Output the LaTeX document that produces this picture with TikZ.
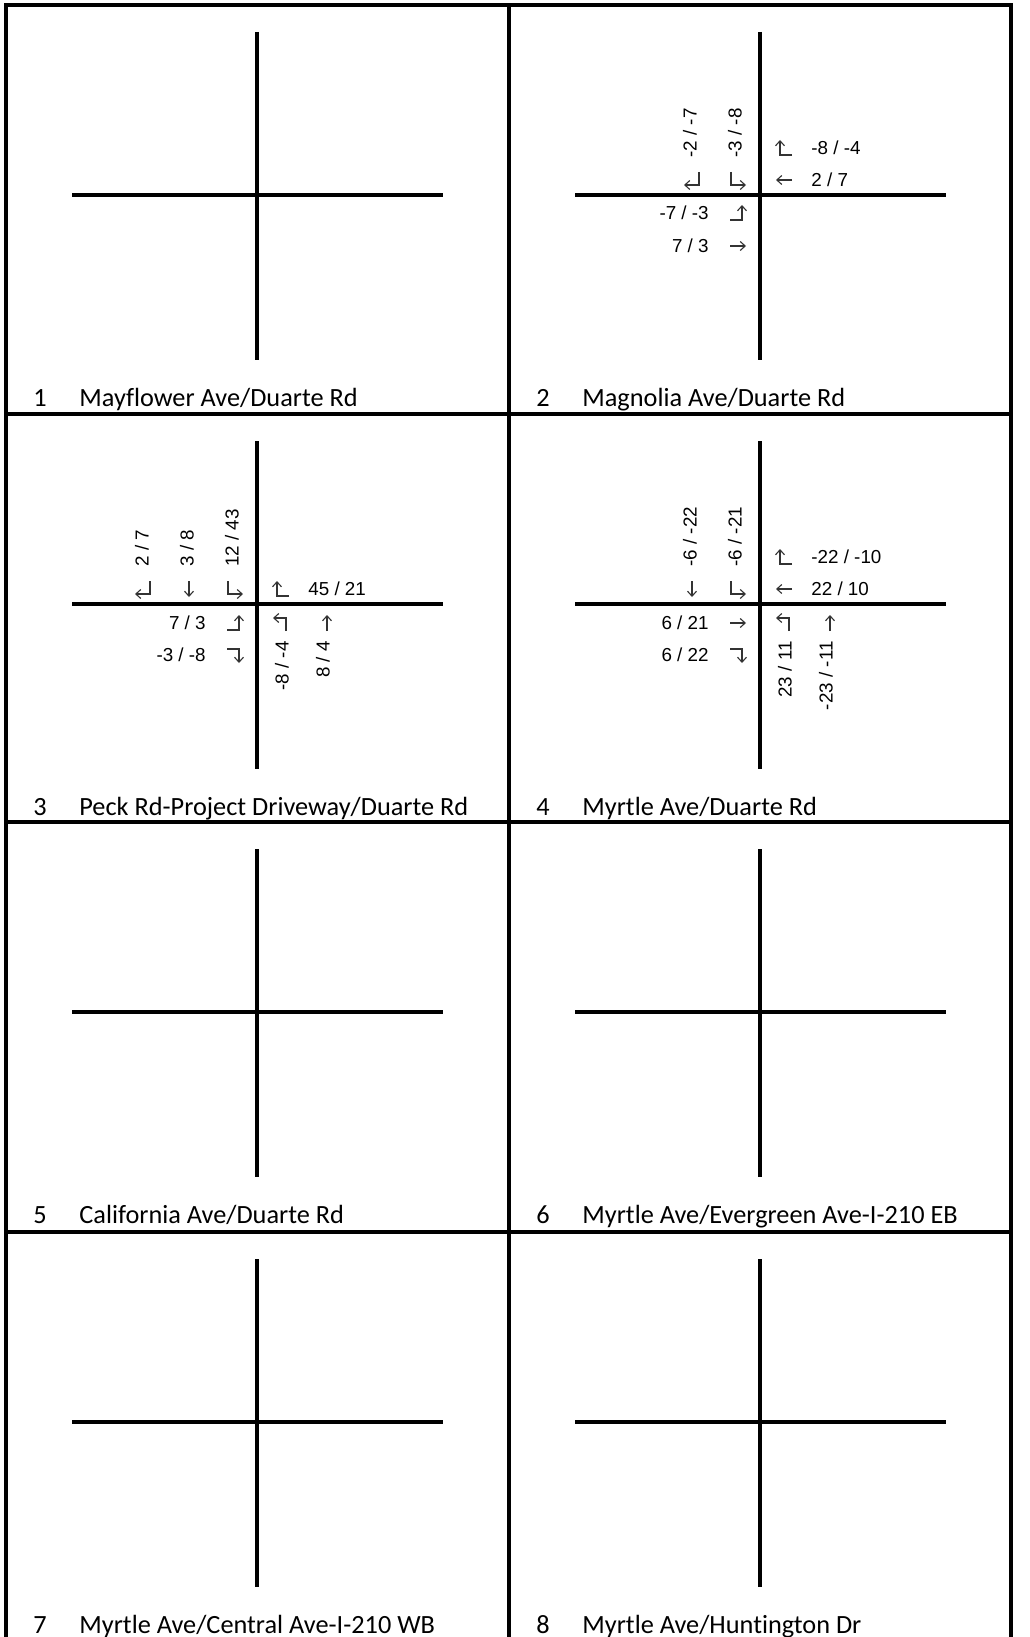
\documentclass[tikz,border=0pt]{standalone}
\usepackage{fontspec}
\setmainfont[Ligatures={NoCommon,NoContextual},Contextuals=NoAlternate]{Carlito}
\newfontfamily\volfont{Liberation Sans}
\usetikzlibrary{arrows.meta}

% movement arrows, (#1,#2) is the middle of the glyph
\newcommand{\mvW}[2]{\draw[turn] (#1,#2) ++(8,0) -- ++(-16,0);}
\newcommand{\mvE}[2]{\draw[turn] (#1,#2) ++(-8,0) -- ++(16,0);}
\newcommand{\mvN}[2]{\draw[turn] (#1,#2) ++(0,8) -- ++(0,-16);}
\newcommand{\mvS}[2]{\draw[turn] (#1,#2) ++(0,-8) -- ++(0,16);}
\newcommand{\mvSW}[2]{\draw[turn] (#1,#2) ++(7,-8) -- ++(0,13) -- ++(-15,0);}
\newcommand{\mvSE}[2]{\draw[turn] (#1,#2) ++(-7,-8) -- ++(0,13) -- ++(15,0);}
\newcommand{\mvWS}[2]{\draw[turn] (#1,#2) ++(8,7) -- ++(-12,0) -- ++(0,-15);}
\newcommand{\mvEN}[2]{\draw[turn] (#1,#2) ++(-8,7) -- ++(12,0) -- ++(0,-15);}
\newcommand{\mvES}[2]{\draw[turn] (#1,#2) ++(-8,-6) -- ++(12,0) -- ++(0,14);}
\newcommand{\mvNW}[2]{\draw[turn] (#1,#2) ++(5,8) -- ++(0,-13) -- ++(-13,0);}

\begin{document}
\begin{tikzpicture}[
  x=0.5pt, y=-0.5pt,
  grid/.style={line width=1.65pt,line cap=rect},
  road/.style={line width=1.6pt},
  turn/.style={-{Straight Barb[length=2.5pt,width=4.5pt]},line width=0.55pt,black!80},
  vol/.style={font=\volfont\fontsize{9.4}{11}\selectfont,inner sep=0pt},
  sbvol/.style={vol,rotate=90,anchor=west},
  nbvol/.style={vol,rotate=90,anchor=east},
  ebvol/.style={vol,anchor=east},
  wbvol/.style={vol,anchor=west},
  caption/.style={font=\fontsize{13.15}{15}\selectfont,inner sep=0pt,anchor=base west},
]
\useasboundingbox (0,0) rectangle (1029,1637);

% table
\foreach \y in {5,414,822,1232} \draw[grid] (6,\y) -- (1011,\y);
\foreach \x in {6,509,1011} \draw[grid] (\x,5) -- (\x,1640);

% crossings and names
\foreach \n/\cl/\rt/\name in {
  1/6/5/{Mayflower Ave/Duarte Rd},
  2/509/5/{Magnolia Ave/Duarte Rd},
  3/6/414/{Peck Rd-Project Driveway/Duarte Rd},
  4/509/414/{Myrtle Ave/Duarte Rd},
  5/6/822/{California Ave/Duarte Rd},
  6/509/822/{Myrtle Ave/Evergreen Ave-I-210 EB},
  7/6/1232/{Myrtle Ave/Central Ave-I-210 WB},
  8/509/1232/{Myrtle Ave/Huntington Dr}} {
  \draw[road] (\cl+251,\rt+27) -- (\cl+251,\rt+355);
  \draw[road] (\cl+66,\rt+190) -- (\cl+437,\rt+190);
  \node[caption] (num\n) at (\cl+27,\rt+401) {\n};
  \node[caption] (name\n) at (\cl+73,\rt+401) {\name};
}

% 2 Magnolia Ave/Duarte Rd
\begin{scope}[shift={(760,195)}]
  \node[sbvol] (p2sbr) at (-70,-37) {-2 / -7};
  \node[sbvol] (p2sbl) at (-25,-37) {-3 / -8};
  \mvSW{-68}{-15} \mvSE{-22}{-15}
  \node[wbvol] (p2wbl) at (51,-47) {-8 / -4};
  \node[wbvol] (p2wbt) at (51,-15) {2 / 7};
  \mvWS{24}{-47} \mvW{24}{-15}
  \node[ebvol] (p2ebl) at (-51,18) {-7 / -3};
  \node[ebvol] (p2ebt) at (-51,51) {7 / 3};
  \mvEN{-22}{18} \mvE{-22}{51}
\end{scope}

% 3 Peck Rd-Project Driveway/Duarte Rd
\begin{scope}[shift={(257,604)}]
  \node[sbvol] (p3sbr) at (-115,-37) {2 / 7};
  \node[sbvol] (p3sbt) at (-70,-37) {3 / 8};
  \node[sbvol] (p3sbl) at (-25,-37) {12 / 43};
  \mvSW{-114}{-15} \mvS{-68}{-15} \mvSE{-22}{-15}
  \node[wbvol] (p3wbl) at (51,-15) {45 / 21};
  \mvWS{24}{-15}
  \node[ebvol] (p3ebl) at (-51,19) {7 / 3};
  \node[ebvol] (p3ebr) at (-51,51) {-3 / -8};
  \mvEN{-22}{19} \mvES{-22}{51}
  \node[nbvol] (p3nbl) at (25,37) {-8 / -4};
  \node[nbvol] (p3nbt) at (66,37) {8 / 4};
  \mvNW{24}{19} \mvN{70}{19}
\end{scope}

% 4 Myrtle Ave/Duarte Rd
\begin{scope}[shift={(760,604)}]
  \node[sbvol] (p4sbt) at (-70,-37) {-6 / -22};
  \node[sbvol] (p4sbl) at (-25,-37) {-6 / -21};
  \mvS{-68}{-15} \mvSE{-22}{-15}
  \node[wbvol] (p4wbl) at (51,-47) {-22 / -10};
  \node[wbvol] (p4wbt) at (51,-15) {22 / 10};
  \mvWS{24}{-47} \mvW{24}{-15}
  \node[ebvol] (p4ebt) at (-51,19) {6 / 21};
  \node[ebvol] (p4ebr) at (-51,51) {6 / 22};
  \mvE{-22}{19} \mvES{-22}{51}
  \node[nbvol] (p4nbl) at (25,37) {23 / 11};
  \node[nbvol] (p4nbt) at (66,37) {-23 / -11};
  \mvNW{24}{19} \mvN{70}{19}
\end{scope}
\end{tikzpicture}
\end{document}
